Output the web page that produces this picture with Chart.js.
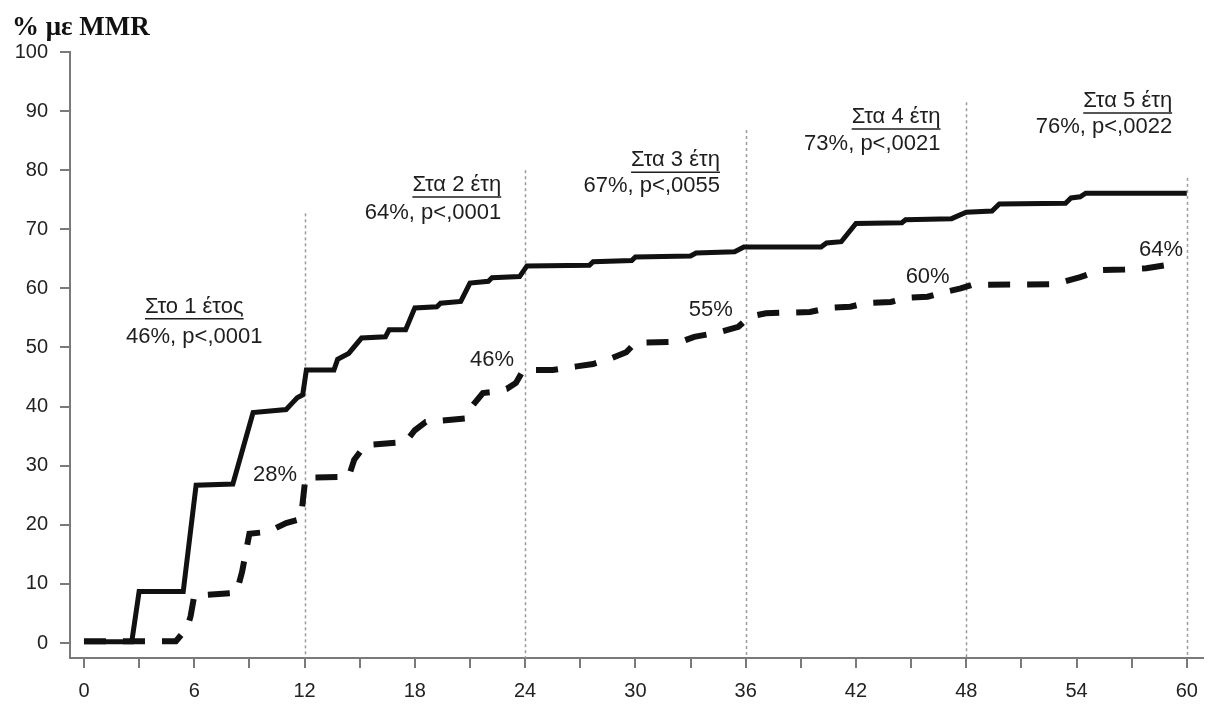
<!DOCTYPE html>
<html>
<head>
<meta charset="utf-8">
<script src="https://cdn.jsdelivr.net/npm/chart.js@4/dist/chart.umd.min.js"></script>
<style>
  html, body { margin: 0; padding: 0; background: #fff; }
  #wrap { position: relative; width: 1209px; height: 704px; }
  #ylabel { position: absolute; left: 12px; top: 11px; font: bold 27px "Liberation Serif", "Times New Roman", serif; color: #111; }
</style>
</head>
<body>
<div id="wrap">
  <canvas id="c" width="1209" height="704"></canvas>
  <div id="ylabel">% με MMR</div>
</div>
<script>
// Cumulative rate of MMR over time (months) for the two treatment arms
const solidMonths = [0, 2.6, 3.0, 5.4, 6.1, 8.1, 9.2, 11, 11.3, 11.6, 11.9, 12.1, 13.6, 13.8, 14.4, 15.1, 16.4, 16.6, 17.5, 18, 19.2, 19.4, 20.5, 21, 22, 22.2, 23.7, 24.1, 27.5, 27.7, 29.8, 30, 33, 33.3, 35.4, 35.9, 40.1, 40.4, 41.2, 42, 44.5, 44.7, 47.2, 48, 49.4, 49.8, 53.4, 53.7, 54.2, 54.5, 60];
const solidValues = [0.2, 0.2, 8.7, 8.7, 26.7, 26.9, 39, 39.5, 40.5, 41.5, 42, 46.2, 46.2, 48, 49, 51.6, 51.8, 53, 53, 56.7, 56.9, 57.5, 57.8, 60.9, 61.2, 61.8, 62, 63.8, 63.9, 64.5, 64.7, 65.3, 65.5, 66, 66.2, 67, 67, 67.7, 67.9, 71, 71.1, 71.6, 71.8, 72.9, 73.1, 74.3, 74.4, 75.3, 75.5, 76.1, 76.1];

const dashedMonths = [0, 5.0, 5.6, 5.8, 6.0, 8.3, 8.6, 9.0, 10, 11, 11.8, 12.05, 14.4, 14.7, 15.3, 17.5, 18, 18.6, 20.8, 21.1, 21.7, 22.3, 23, 23.5, 23.9, 25.5, 26.8, 27.7, 28.7, 29.5, 30, 32.5, 33.2, 34.6, 35.6, 36.2, 37.1, 39.5, 40.5, 41.7, 42.5, 43.9, 44.8, 45.9, 46.7, 47.7, 48.3, 52.6, 53.4, 54.2, 55.3, 56.6, 57.8, 59];
const dashedValues = [0.3, 0.3, 2.5, 4.5, 8, 8.5, 12, 18.5, 18.8, 20.3, 21, 28, 28.1, 31, 33.5, 34, 36, 37.4, 38, 40, 42.3, 42.5, 43, 44, 46.2, 46.2, 46.8, 47.2, 48.2, 49.2, 50.8, 51, 51.8, 52.6, 53.5, 55.2, 55.8, 56, 56.7, 56.9, 57.5, 57.7, 58.4, 58.6, 59.3, 60, 60.6, 60.7, 61.2, 61.9, 63.1, 63.2, 63.4, 64];

// Yearly milestones
const milestoneMonths = [12, 24, 36, 48, 60];
const milestoneTitles = ['Στο 1 έτος', 'Στα 2 έτη', 'Στα 3 έτη', 'Στα 4 έτη', 'Στα 5 έτη'];
const solidAtMilestone = [46, 64, 67, 73, 76];
const pValues = ['p<,0001', 'p<,0001', 'p<,0055', 'p<,0021', 'p<,0022'];
const dashedAtMilestone = [28, 46, 55, 60, 64];
const guideTops = [72.7, 80, 86.8, 91.5, 78.7];

// Axis ticks
const xTickValues = [0, 3, 6, 9, 12, 15, 18, 21, 24, 27, 30, 33, 36, 39, 42, 45, 48, 51, 54, 57, 60];
const yTickValues = [0, 10, 20, 30, 40, 50, 60, 70, 80, 90, 100];

// Label anchors (month, value): title line, value line, alignment
const boxAnchors = [
  { x: 6.0, yTitle: 56.9, yStat: 51.8, align: 'center' },
  { x: 22.7, yTitle: 77.5, yStat: 72.8, align: 'right' },
  { x: 34.6, yTitle: 81.7, yStat: 77.3, align: 'right' },
  { x: 46.6, yTitle: 89.0, yStat: 84.4, align: 'right' },
  { x: 59.2, yTitle: 91.7, yStat: 87.3, align: 'right' }
];
const dashedLabelAnchors = [[10.4, 28.4], [22.2, 47.9], [34.1, 56.3], [45.9, 61.9], [58.6, 66.5]];

const toPoints = (xs, ys) => xs.map((x, i) => ({ x: x, y: ys[i] }));

const textFont = '22px "Liberation Sans", Arial, sans-serif';
const textColor = '#1e1e1e';

const overlayPlugin = {
  id: 'overlay',
  beforeDatasetsDraw(chart) {
    const { ctx, scales: { x, y }, chartArea } = chart;
    ctx.save();
    ctx.strokeStyle = '#9a9a9a';
    ctx.lineWidth = 1.5;
    ctx.setLineDash([3, 3]);
    milestoneMonths.forEach((m, i) => {
      const px = Math.round(x.getPixelForValue(m)) + 0.5;
      ctx.beginPath();
      ctx.moveTo(px, y.getPixelForValue(guideTops[i]));
      ctx.lineTo(px, chartArea.bottom);
      ctx.stroke();
    });
    ctx.restore();
  },
  afterDatasetsDraw(chart) {
    const { ctx, scales: { x, y } } = chart;
    ctx.save();
    ctx.font = textFont;
    ctx.fillStyle = textColor;
    ctx.textBaseline = 'middle';
    milestoneMonths.forEach((m, i) => {
      const a = boxAnchors[i];
      const ax = x.getPixelForValue(a.x);
      const ty = y.getPixelForValue(a.yTitle);
      const sy = y.getPixelForValue(a.yStat);
      const title = milestoneTitles[i];
      const stat = solidAtMilestone[i] + '%, ' + pValues[i];
      ctx.textAlign = a.align;
      ctx.fillText(title, ax, ty);
      ctx.fillText(stat, ax, sy);
      const w = ctx.measureText(title).width;
      const left = a.align === 'center' ? ax - w / 2 : ax - w;
      ctx.strokeStyle = textColor;
      ctx.lineWidth = 1.5;
      ctx.beginPath();
      ctx.moveTo(left, ty + 12);
      ctx.lineTo(left + w, ty + 12);
      ctx.stroke();
      const d = dashedLabelAnchors[i];
      ctx.textAlign = 'center';
      ctx.fillText(dashedAtMilestone[i] + '%', x.getPixelForValue(d[0]), y.getPixelForValue(d[1]));
    });
    ctx.restore();
  }
};

new Chart(document.getElementById('c'), {
  type: 'line',
  data: {
    datasets: [
      {
        data: toPoints(solidMonths, solidValues),
        borderColor: '#111',
        borderWidth: 5,
        pointRadius: 0,
        tension: 0,
        fill: false,
        clip: false
      },
      {
        data: toPoints(dashedMonths, dashedValues),
        borderColor: '#111',
        borderWidth: 6,
        borderDash: [22, 17],
        pointRadius: 0,
        tension: 0,
        fill: false,
        clip: false
      }
    ]
  },
  options: {
    responsive: false,
    animation: false,
    layout: { padding: { top: 52, right: 4, left: 0, bottom: 0 } },
    plugins: { legend: { display: false }, tooltip: { enabled: false } },
    scales: {
      x: {
        type: 'linear',
        min: -0.76,
        max: 60.9,
        afterFit(s) { s.height = 46; },
        afterBuildTicks(s) { s.ticks = xTickValues.map(v => ({ value: v })); },
        border: { display: true, color: '#7a7a7a', width: 2 },
        grid: { drawOnChartArea: false, drawTicks: true, tickLength: 10, tickColor: '#7a7a7a', lineWidth: 2 },
        ticks: {
          autoSkip: false,
          maxRotation: 0,
          padding: 11,
          color: '#222',
          font: { family: '"Liberation Sans", Arial, sans-serif', size: 20 },
          callback: v => (v % 6 === 0 ? String(v) : '')
        }
      },
      y: {
        type: 'linear',
        min: -2.54,
        max: 100,
        afterFit(s) { s.width = 70; },
        afterBuildTicks(s) { s.ticks = yTickValues.map(v => ({ value: v })); },
        border: { display: true, color: '#7a7a7a', width: 2 },
        grid: { drawOnChartArea: false, drawTicks: true, tickLength: 10, tickColor: '#7a7a7a', lineWidth: 2 },
        ticks: {
          padding: 12,
          color: '#222',
          font: { family: '"Liberation Sans", Arial, sans-serif', size: 20 },
          callback: v => String(v)
        }
      }
    }
  },
  plugins: [overlayPlugin]
});
</script>
</body>
</html>
